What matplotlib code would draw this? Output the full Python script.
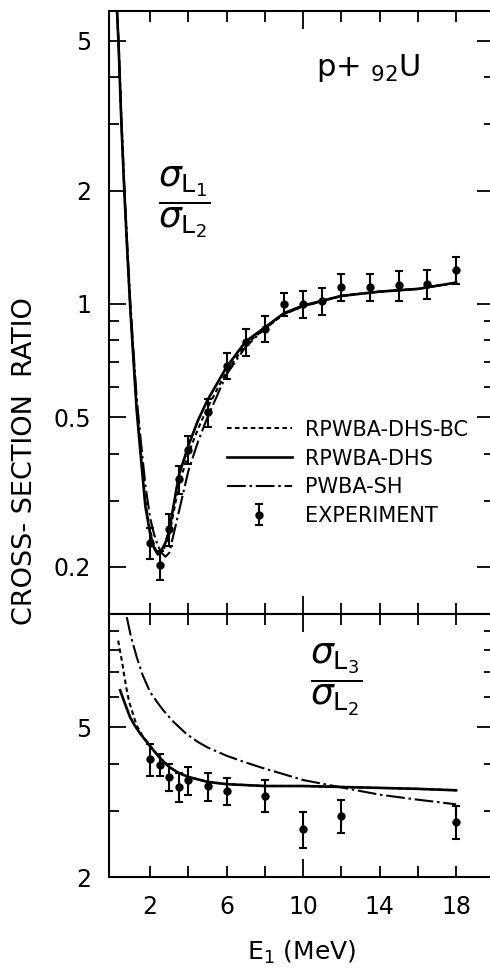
import matplotlib
matplotlib.use("Agg")
import matplotlib.pyplot as plt
from matplotlib.ticker import FixedLocator, FixedFormatter, NullFormatter

plt.rcParams['font.family'] = ['DejaVu Sans']
plt.rcParams['mathtext.fontset'] = 'dejavusans'

# ---- upper panel: sigma L1 / sigma L2 ----
# theory curves
e_up = [0.25, 0.35, 0.5, 0.65, 0.8, 0.95, 1.1, 1.3, 1.5, 1.75, 2.0, 2.2, 2.4, 2.6, 2.8, 3.0,
        3.5, 4.0, 4.5, 5.0, 6.0, 7.0, 8.0, 9.0, 10.0, 12.0, 14.0, 16.0, 18.0]
dhs_up = [6.3, 4.9, 3.0, 2.0, 1.4, 1.0, 0.75, 0.52, 0.40, 0.29, 0.245, 0.225, 0.216, 0.222, 0.232, 0.25,
          0.35, 0.42, 0.49, 0.555, 0.68, 0.795, 0.866, 0.945, 0.99, 1.05, 1.078, 1.096, 1.139]
bc_up = [6.3, 4.9, 3.0, 2.0, 1.4, 1.0, 0.76, 0.53, 0.41, 0.30, 0.25, 0.228, 0.216, 0.219, 0.228, 0.243,
         0.33, 0.40, 0.465, 0.53, 0.662, 0.78, 0.86, 0.94, 0.985, 1.05, 1.078, 1.096, 1.139]
sh_up = [6.3, 4.95, 3.1, 2.05, 1.45, 1.04, 0.79, 0.56, 0.44, 0.33, 0.27, 0.245, 0.228, 0.218, 0.213, 0.218,
         0.28, 0.36, 0.43, 0.50, 0.65, 0.77, 0.86, 0.94, 0.985, 1.05, 1.078, 1.096, 1.139]
# experiment
e_exp_up = [2, 2.5, 3, 3.5, 4, 5, 6, 7, 8, 9, 10, 11, 12, 13.5, 15, 16.5, 18]
r_exp_up = [0.232, 0.203, 0.252, 0.342, 0.41, 0.515, 0.685, 0.79, 0.86, 1.0, 1.0, 1.02, 1.11, 1.11, 1.12, 1.13, 1.23]
err_up = [0.022, 0.018, 0.025, 0.03, 0.035, 0.045, 0.055, 0.065, 0.07, 0.07, 0.08, 0.085, 0.09, 0.09, 0.1, 0.1, 0.1]

# ---- lower panel: sigma L3 / sigma L2 ----
e_dhs_lo = [0.43, 0.7, 0.95, 1.2, 1.48, 1.75, 2.0, 2.5, 3.0, 3.5, 4.0, 5.0, 6.0, 8.0, 10.0, 12.0, 14.0, 16.0, 18.0]
dhs_lo = [6.27, 5.75, 5.32, 5.05, 4.81, 4.62, 4.45, 4.15, 3.92, 3.78, 3.69, 3.58, 3.53, 3.49, 3.49, 3.47, 3.45, 3.43, 3.40]
e_bc_lo = [0.33, 0.42, 0.52, 0.65, 0.78, 0.9, 1.04, 1.3, 1.6, 2.0, 2.5, 3.0, 3.5, 4.0, 5.0, 6.0, 8.0, 10.0,
           12.0, 14.0, 16.0, 18.0]
bc_lo = [8.5, 8.0, 7.53, 6.85, 6.27, 5.85, 5.55, 5.05, 4.75, 4.47, 4.15, 3.92, 3.78, 3.69, 3.58, 3.53, 3.49, 3.49,
         3.47, 3.45, 3.43, 3.40]
e_sh_lo = [0.78, 1.0, 1.3, 1.6, 2.0, 2.4, 2.7, 3.2, 3.9, 4.5, 5.0, 6.0, 7.0, 8.0, 9.0, 10.0, 11.0, 12.0, 14.0,
           16.0, 18.0]
sh_lo = [9.81, 8.7, 7.68, 6.9, 6.2, 5.8, 5.54, 5.18, 4.80, 4.57, 4.42, 4.2, 4.03, 3.88, 3.75, 3.62, 3.54, 3.46,
         3.31, 3.21, 3.12]
e_exp_lo = [2, 2.5, 3, 3.5, 4, 5, 6, 8, 10, 12, 18]
r_exp_lo = [4.11, 3.97, 3.69, 3.47, 3.61, 3.48, 3.38, 3.29, 2.68, 2.91, 2.80]
err_lo = [0.39, 0.27, 0.31, 0.30, 0.31, 0.29, 0.28, 0.32, 0.29, 0.29, 0.28]

x_ticks = [2, 4, 6, 8, 10, 12, 14, 16, 18]
x_labels = ['2', '', '6', '', '10', '', '14', '', '18']

W, H = 490, 972
fig = plt.figure(figsize=(W / 100, H / 100), dpi=100)


def px_axes(x0, y0, x1, y1):
    return fig.add_axes([x0 / W, 1 - y1 / H, (x1 - x0) / W, (y1 - y0) / H])


ax1 = px_axes(109, 11, 494.4, 614)
ax2 = px_axes(109, 614, 494.4, 877)

kw_bc = dict(color='k', lw=1.5, dashes=(2.2, 1.6))
kw_dhs = dict(color='k', lw=1.9)
kw_sh = dict(color='k', lw=1.5, dashes=(9, 1.8, 1.2, 1.8))
kw_exp = dict(fmt='o', color='k', ms=5, capsize=3, elinewidth=1.5, capthick=1.5)

l_bc, = ax1.plot(e_up, bc_up, **kw_bc)
l_dhs, = ax1.plot(e_up, dhs_up, **kw_dhs)
l_sh, = ax1.plot(e_up, sh_up, **kw_sh)
c_exp = ax1.errorbar(e_exp_up, r_exp_up, yerr=err_up, **kw_exp)

ax2.plot(e_bc_lo, bc_lo, **kw_bc)
ax2.plot(e_dhs_lo, dhs_lo, **kw_dhs)
ax2.plot(e_sh_lo, sh_lo, **kw_sh)
ax2.errorbar(e_exp_lo, r_exp_lo, yerr=err_lo, **kw_exp)


def style(ax, ylim, major, minor, labels):
    ax.set_yscale('log')
    ax.set_ylim(*ylim)
    ax.set_xlim(-0.15, 20)
    ax.yaxis.set_major_locator(FixedLocator(major))
    ax.yaxis.set_minor_locator(FixedLocator(minor))
    ax.yaxis.set_major_formatter(FixedFormatter(labels))
    ax.yaxis.set_minor_formatter(NullFormatter())
    ax.set_xticks(x_ticks)
    ax.set_xticklabels(x_labels)
    ax.tick_params(which='both', direction='in', top=True, right=True, width=1.3)
    ax.tick_params(axis='y', which='major', length=12, labelsize=17, pad=13)
    ax.tick_params(axis='y', which='minor', length=7)
    ax.tick_params(axis='x', length=8, labelsize=17, pad=13)
    for sp in ax.spines.values():
        sp.set_linewidth(1.5)
    t10 = ax.xaxis.get_major_ticks()[4]
    t10.tick1line.set_markersize(13)
    t10.tick2line.set_markersize(13)


style(ax1, (0.15, 6.0), [0.2, 0.5, 1, 2, 5], [0.3, 0.4, 0.6, 0.7, 0.8, 0.9, 3, 4],
      ['0.2', '0.5', '1', '2', '5'])
style(ax2, (2, 10), [2, 5], [3, 4, 6, 7, 8, 9], ['2', '5'])
ax1.tick_params(labelbottom=False)

ax1.text(0.195, 0.683, r'$\dfrac{\sigma_{\mathrm{L}_1}}{\sigma_{\mathrm{L}_2}}$',
         transform=ax1.transAxes, ha='center', va='center', fontsize=26)
ax2.text(0.589, 0.749, r'$\dfrac{\sigma_{\mathrm{L}_3}}{\sigma_{\mathrm{L}_2}}$',
         transform=ax2.transAxes, ha='center', va='center', fontsize=26)
ax1.text(0.672, 0.905, r'p+ $_{\mathregular{92}}$U', transform=ax1.transAxes,
         ha='center', va='center', fontsize=22)

ax1.legend([l_bc, l_dhs, l_sh, c_exp],
           ['RPWBA-DHS-BC', 'RPWBA-DHS', 'PWBA-SH', 'EXPERIMENT'],
           loc='center left', bbox_to_anchor=(0.306, 0.234), frameon=False,
           fontsize=15, handlelength=3.1, handletextpad=0.65, labelspacing=0.42,
           borderpad=0, borderaxespad=0)

ax2.set_xlabel('E$_1$ (MeV)', fontsize=18, labelpad=14)
fig.text(25 / W, 1 - 461 / H, 'CROSS- SECTION  RATIO', rotation=90,
         ha='center', va='center', fontsize=19.5)

fig.savefig('out.png', dpi=100)
